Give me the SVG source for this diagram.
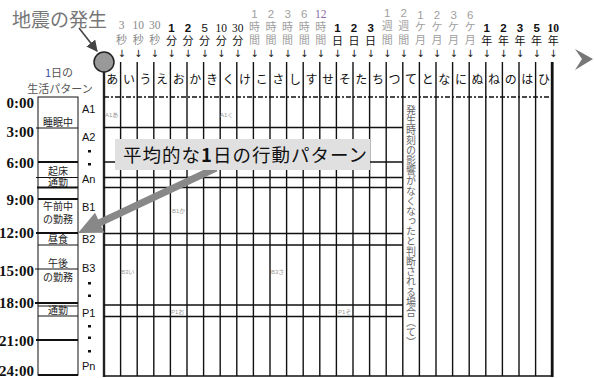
<svg xmlns="http://www.w3.org/2000/svg" width="594" height="378" viewBox="0 0 594 378">
<style>
.jp{font-family:"Noto Sans CJK JP","Noto Sans",sans-serif}
.sr{font-family:"Liberation Serif","Noto Sans CJK JP",serif}
.ss{font-family:"Liberation Sans","Noto Sans CJK JP",sans-serif}
.u{font-size:11px;text-anchor:middle}
.n{font-size:11.5px;text-anchor:middle}
.ar{font-size:10px;text-anchor:middle;font-family:"DejaVu Sans",sans-serif;fill:#111}
.k{font-size:12px;text-anchor:middle;font-family:"Noto Sans CJK JP",sans-serif;fill:#111}
.g{fill:#888}
.lg{fill:#a0a0a0}
.b{fill:#111}
.t{font-family:"Liberation Serif",serif;font-weight:bold;font-size:15px;text-anchor:end;fill:#111}
.bx{font-family:"Noto Sans CJK JP",sans-serif;font-size:10px;text-anchor:middle;fill:#222}
.rl{font-family:"Liberation Sans",sans-serif;font-size:11px;fill:#111}
.sm{font-family:"Liberation Sans","Noto Sans CJK JP",sans-serif;font-size:6px;fill:#999}
.v{stroke:#111;stroke-width:1.4}
.h{stroke:#111;stroke-width:1.4}
.thin{stroke:#111;stroke-width:1}
.thk{stroke:#111;stroke-width:1.8}
</style>
<defs>
<marker id="ah" viewBox="0 0 10 10" refX="9" refY="5" markerWidth="7" markerHeight="7" orient="auto">
<path d="M0,0 L10,5 L0,10 Z" fill="#444"/>
</marker>
</defs>

<g id="title">
<text x="12" y="27" class="jp" font-size="19" fill="#777">地震の発生</text>
</g>

<g id="origin">
<circle cx="104" cy="62" r="10" fill="#999" stroke="#222" stroke-width="1.5"/>
</g>

<g id="next-chevron">
<path d="M575,49 L593,59 L575,70 L582,59 Z" fill="#777"/>
</g>

<g id="grid">
<line x1="104" y1="72" x2="104" y2="377" stroke="#222" stroke-width="2.4"/>
<line class="v" x1="120.6" y1="62" x2="120.6" y2="376"/>
<line class="v" x1="137.2" y1="62" x2="137.2" y2="376"/>
<line class="v" x1="153.8" y1="62" x2="153.8" y2="376"/>
<line class="v" x1="170.4" y1="62" x2="170.4" y2="376"/>
<line class="v" x1="187" y1="62" x2="187" y2="376"/>
<line class="v" x1="203.6" y1="62" x2="203.6" y2="376"/>
<line class="v" x1="220.2" y1="62" x2="220.2" y2="376"/>
<line class="v" x1="236.8" y1="62" x2="236.8" y2="376"/>
<line class="v" x1="253.4" y1="62" x2="253.4" y2="376"/>
<line class="v" x1="270" y1="62" x2="270" y2="376"/>
<line class="v" x1="286.6" y1="62" x2="286.6" y2="376"/>
<line class="v" x1="303.2" y1="62" x2="303.2" y2="376"/>
<line class="v" x1="319.8" y1="62" x2="319.8" y2="376"/>
<line class="v" x1="336.4" y1="62" x2="336.4" y2="376"/>
<line class="v" x1="353" y1="62" x2="353" y2="376"/>
<line class="v" x1="369.6" y1="62" x2="369.6" y2="376"/>
<line class="v" x1="386.2" y1="62" x2="386.2" y2="376"/>
<line class="v" x1="402.8" y1="62" x2="402.8" y2="376"/>
<line class="v" x1="419.4" y1="62" x2="419.4" y2="376"/>
<line class="v" x1="436" y1="62" x2="436" y2="376"/>
<line class="v" x1="452.6" y1="62" x2="452.6" y2="376"/>
<line class="v" x1="469.2" y1="62" x2="469.2" y2="376"/>
<line class="v" x1="485.8" y1="62" x2="485.8" y2="376"/>
<line class="v" x1="502.4" y1="62" x2="502.4" y2="376"/>
<line class="v" x1="519" y1="62" x2="519" y2="376"/>
<line class="v" x1="535.6" y1="62" x2="535.6" y2="376"/>
<line x1="552.2" y1="62" x2="552.2" y2="377" stroke="#111" stroke-width="2.8"/>
<line x1="104" y1="97" x2="552" y2="97" stroke="#111" stroke-width="1.6" stroke-dasharray="5 2 2 2"/>
<line x1="104" y1="376" x2="552" y2="376" stroke="#111" stroke-width="1.6"/>
<line class="h" x1="104" y1="127.5" x2="402.8" y2="127.5"/>
<line class="h" x1="104" y1="162" x2="402.8" y2="162"/>
<line class="h" x1="104" y1="177.5" x2="402.8" y2="177.5"/>
<line class="h" x1="104" y1="187.5" x2="402.8" y2="187.5"/>
<line class="h" x1="104" y1="233.5" x2="402.8" y2="233.5"/>
<line class="h" x1="104" y1="245" x2="402.8" y2="245"/>
<line class="h" x1="104" y1="305" x2="402.8" y2="305"/>
<line class="h" x1="104" y1="316.5" x2="402.8" y2="316.5"/>
</g>

<g id="column-headers">
<text class="k" x="112.3" y="84">あ</text>
<text class="k" x="128.9" y="84">い</text>
<text class="k" x="145.5" y="84">う</text>
<text class="k" x="162.1" y="84">え</text>
<text class="k" x="178.7" y="84">お</text>
<text class="k" x="195.3" y="84">か</text>
<text class="k" x="211.9" y="84">き</text>
<text class="k" x="228.5" y="84">く</text>
<text class="k" x="245.1" y="84">け</text>
<text class="k" x="261.7" y="84">こ</text>
<text class="k" x="278.3" y="84">さ</text>
<text class="k" x="294.9" y="84">し</text>
<text class="k" x="311.5" y="84">す</text>
<text class="k" x="328.1" y="84">せ</text>
<text class="k" x="344.7" y="84">そ</text>
<text class="k" x="361.3" y="84">た</text>
<text class="k" x="377.9" y="84">ち</text>
<text class="k" x="394.5" y="84">つ</text>
<text class="k" x="411.1" y="84">て</text>
<text class="k" x="427.7" y="84">と</text>
<text class="k" x="444.3" y="84">な</text>
<text class="k" x="460.9" y="84">に</text>
<text class="k" x="477.5" y="84">ぬ</text>
<text class="k" x="494.1" y="84">ね</text>
<text class="k" x="510.7" y="84">の</text>
<text class="k" x="527.3" y="84">は</text>
<text class="k" x="543.9" y="84">ひ</text>
</g>

<g id="time-labels">
<text class="n sr g" x="121.6" y="29">3</text><text class="u jp g" x="121.6" y="44">秒</text>
<text class="n sr g" x="138.2" y="29">10</text><text class="u jp g" x="138.2" y="44">秒</text>
<text class="n sr g" x="154.8" y="29">30</text><text class="u jp g" x="154.8" y="44">秒</text>
<text class="n ss b" x="171.4" y="32" font-weight="bold">1</text><text class="u jp b" x="171.4" y="45">分</text>
<text class="n ss b" x="188" y="32" font-weight="bold">2</text><text class="u jp b" x="188" y="45">分</text>
<text class="n ss b" x="204.6" y="32">5</text><text class="u jp b" x="204.6" y="45">分</text>
<text class="n sr b" x="221.2" y="32">10</text><text class="u jp b" x="221.2" y="45">分</text>
<text class="n sr b" x="237.8" y="32">30</text><text class="u jp b" x="237.8" y="45">分</text>
<text class="n ss lg" x="254.4" y="18">1</text><text class="u jp lg" x="254.4" y="31">時</text><text class="u jp lg" x="254.4" y="44">間</text>
<text class="n ss lg" x="271" y="18">2</text><text class="u jp lg" x="271" y="31">時</text><text class="u jp lg" x="271" y="44">間</text>
<text class="n ss lg" x="287.6" y="18">3</text><text class="u jp lg" x="287.6" y="31">時</text><text class="u jp lg" x="287.6" y="44">間</text>
<text class="n ss lg" x="304.2" y="18">6</text><text class="u jp lg" x="304.2" y="31">時</text><text class="u jp lg" x="304.2" y="44">間</text>
<text class="n sr" x="320.8" y="18" fill="#8a68a8">12</text><text class="u jp lg" x="320.8" y="31">時</text><text class="u jp lg" x="320.8" y="44">間</text>
<text class="n ss b" x="337.4" y="32" font-weight="bold">1</text><text class="u jp b" x="337.4" y="45">日</text>
<text class="n ss b" x="354" y="32" font-weight="bold">2</text><text class="u jp b" x="354" y="45">日</text>
<text class="n ss b" x="370.6" y="32" font-weight="bold">3</text><text class="u jp b" x="370.6" y="45">日</text>
<text class="n ss lg" x="387.2" y="17">1</text><text class="u jp lg" x="387.2" y="30">週</text><text class="u jp lg" x="387.2" y="44">間</text>
<text class="n ss lg" x="403.8" y="17">2</text><text class="u jp lg" x="403.8" y="30">週</text><text class="u jp lg" x="403.8" y="44">間</text>
<text class="n ss lg" x="420.4" y="19">1</text><text class="u jp lg" x="420.4" y="31">ケ</text><text class="u jp lg" x="420.4" y="44">月</text>
<text class="n ss lg" x="437" y="19">2</text><text class="u jp lg" x="437" y="31">ケ</text><text class="u jp lg" x="437" y="44">月</text>
<text class="n ss lg" x="453.6" y="19">3</text><text class="u jp lg" x="453.6" y="31">ケ</text><text class="u jp lg" x="453.6" y="44">月</text>
<text class="n ss lg" x="470.2" y="19">6</text><text class="u jp lg" x="470.2" y="31">ケ</text><text class="u jp lg" x="470.2" y="44">月</text>
<text class="n ss b" x="486.8" y="32" font-weight="bold">1</text><text class="u jp b" x="486.8" y="45">年</text>
<text class="n ss b" x="503.4" y="32" font-weight="bold">2</text><text class="u jp b" x="503.4" y="45">年</text>
<text class="n ss b" x="520" y="32" font-weight="bold">3</text><text class="u jp b" x="520" y="45">年</text>
<text class="n ss b" x="536.6" y="32" font-weight="bold">5</text><text class="u jp b" x="536.6" y="45">年</text>
<text class="n sr b" x="553.2" y="32" font-weight="bold">10</text><text class="u jp b" x="553.2" y="45">年</text>
</g>

<g id="tick-arrows">
<text class="ar" x="121.6" y="57">↓</text>
<text class="ar" x="138.2" y="57">↓</text>
<text class="ar" x="154.8" y="57">↓</text>
<text class="ar" x="171.4" y="57">↓</text>
<text class="ar" x="188" y="57">↓</text>
<text class="ar" x="204.6" y="57">↓</text>
<text class="ar" x="221.2" y="57">↓</text>
<text class="ar" x="237.8" y="57">↓</text>
<text class="ar" x="254.4" y="57">↓</text>
<text class="ar" x="271" y="57">↓</text>
<text class="ar" x="287.6" y="57">↓</text>
<text class="ar" x="304.2" y="57">↓</text>
<text class="ar" x="320.8" y="57">↓</text>
<text class="ar" x="337.4" y="57">↓</text>
<text class="ar" x="354" y="57">↓</text>
<text class="ar" x="370.6" y="57">↓</text>
<text class="ar" x="387.2" y="57">↓</text>
<text class="ar" x="403.8" y="57">↓</text>
<text class="ar" x="420.4" y="57">↓</text>
<text class="ar" x="437" y="57">↓</text>
<text class="ar" x="453.6" y="57">↓</text>
<text class="ar" x="470.2" y="57">↓</text>
<text class="ar" x="486.8" y="57">↓</text>
<text class="ar" x="503.4" y="57">↓</text>
<text class="ar" x="520" y="57">↓</text>
<text class="ar" x="536.6" y="57">↓</text>
<text class="ar" x="553.2" y="57">↓</text>
</g>

<g id="life-pattern-title">
<text class="jp" x="59" y="77" font-size="11" text-anchor="middle" fill="#555"><tspan fill="#3a4fa0">1</tspan>日の</text>
<text class="jp" x="60" y="93" font-size="11" text-anchor="middle" fill="#555">生活パターン</text>
</g>

<g id="hours">
<text class="t" x="34" y="108">0:00</text>
<text class="t" x="34" y="137">3:00</text>
<text class="t" x="34" y="168">6:00</text>
<text class="t" x="34" y="205">9:00</text>
<text class="t" x="34" y="238">12:00</text>
<text class="t" x="34" y="276">15:00</text>
<text class="t" x="34" y="308">18:00</text>
<text class="t" x="34" y="346">21:00</text>
<text class="t" x="34" y="376">24:00</text>
</g>

<g id="life-pattern">
<rect x="38" y="97" width="40" height="278" fill="none" stroke="#111" stroke-width="1"/>
<line class="thin" x1="36" y1="128" x2="78" y2="128"/>
<line class="thk" x1="38" y1="162" x2="78" y2="162"/>
<line class="thin" x1="36" y1="177.5" x2="78" y2="177.5"/>
<line class="thk" x1="37" y1="187.5" x2="78" y2="187.5"/>
<line class="thk" x1="38" y1="199" x2="78" y2="199"/>
<line class="thk" x1="36" y1="233" x2="78" y2="233"/>
<line class="thin" x1="38" y1="245" x2="78" y2="245"/>
<line class="thin" x1="35" y1="269" x2="78" y2="269"/>
<line class="thk" x1="35" y1="303" x2="78" y2="303"/>
<line class="thin" x1="38" y1="306" x2="78" y2="306"/>
<line class="thin" x1="38" y1="316" x2="78" y2="316"/>
<line class="thk" x1="36" y1="340" x2="78" y2="340"/>
<line class="thk" x1="38" y1="375" x2="78" y2="375"/>
<text class="bx" x="58" y="126">睡眠中</text>
<text class="bx" x="58" y="175">起床</text>
<text class="bx" x="58" y="186">通勤</text>
<text class="bx" x="58" y="210">午前中</text>
<text class="bx" x="58" y="223">の勤務</text>
<text class="bx" x="58" y="243">昼食</text>
<text class="bx" x="58" y="267">午後</text>
<text class="bx" x="58" y="281">の勤務</text>
<text class="bx" x="58" y="314">通勤</text>
</g>

<g id="rows">
<text class="rl" x="82" y="113">A1</text>
<text class="rl" x="82" y="141">A2</text>
<text class="rl" x="82" y="183">An</text>
<text class="rl" x="82" y="211">B1</text>
<text class="rl" x="82" y="243">B2</text>
<text class="rl" x="82" y="272">B3</text>
<text class="rl" x="82" y="317">P1</text>
<text class="rl" x="82" y="370">Pn</text>
<rect x="88" y="150" width="3" height="2.5" fill="#111"/>
<rect x="88" y="163" width="3" height="2.5" fill="#111"/>
<rect x="88" y="282" width="3" height="2.5" fill="#111"/>
<rect x="88" y="294.5" width="3" height="2.5" fill="#111"/>
<rect x="88" y="325" width="3" height="2.5" fill="#111"/>
<rect x="88" y="336.5" width="3" height="2.5" fill="#111"/>
<rect x="88" y="350" width="3" height="2.5" fill="#111"/>
</g>

<g id="cell-labels">
<text class="sm" x="105" y="117">A1あ</text>
<text class="sm" x="220" y="117">A1く</text>
<text class="sm" x="172" y="213">B1か</text>
<text class="sm" x="121" y="274">B3い</text>
<text class="sm" x="271" y="274">B3さ</text>
<text class="sm" x="171" y="314">P1お</text>
<text class="sm" x="338" y="314">P1そ</text>
</g>

<g id="te-note">
<text x="411.1" y="105" writing-mode="vertical-rl" class="jp" font-size="10" letter-spacing="0.1" fill="#666">発生時刻の影響がなくなったと判断される場合（て）</text>
</g>

<g id="connectors">
<line x1="79" y1="28" x2="97" y2="51" stroke="#444" stroke-width="1.6" marker-end="url(#ah)"/>
<polygon points="214.5,164.8 217.5,171.2 101.2,226 104.4,232.8 78,233 95,212.8 98.2,219.6" fill="#888"/>
</g>

<g id="callout">
<rect x="115" y="139" width="255" height="31" fill="#e0e0e0"/>
<text x="123" y="162" class="jp" font-size="18.5" letter-spacing="1" fill="#111">平均的な<tspan font-weight="bold">1</tspan>日の行動パターン</text>
</g>
</svg>
